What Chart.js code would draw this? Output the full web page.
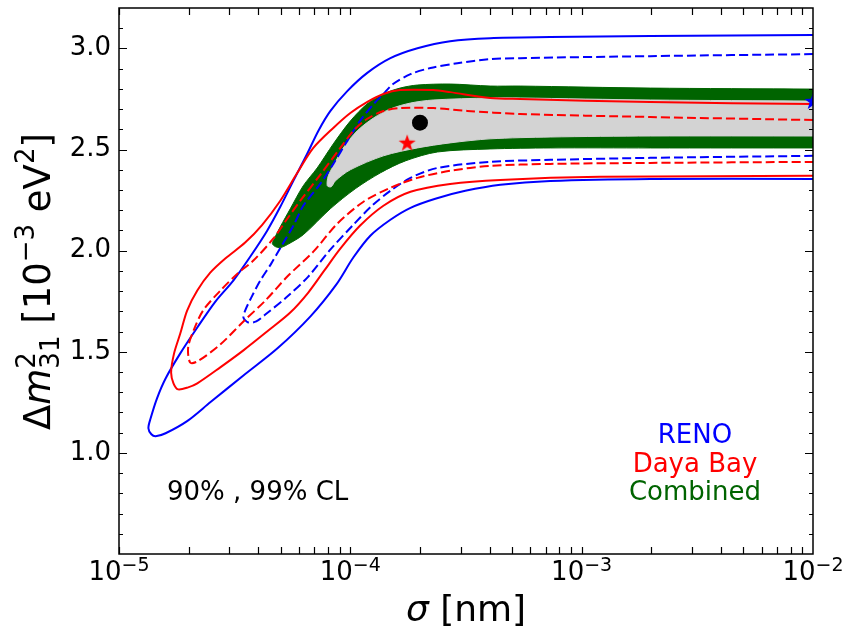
<!DOCTYPE html>
<html>
<head>
<meta charset="utf-8">
<script src="https://cdn.jsdelivr.net/npm/chart.js@4.4.1/dist/chart.umd.min.js"></script>
<style>
  html, body { margin: 0; padding: 0; background: #fff; }
  canvas { display: block; }
</style>
</head>
<body>
<canvas id="myChart" width="854" height="627"></canvas>
<script>
// sigma in nm, dm2 in 1e-3 eV^2, contours

// RENO 99% CL (solid)
const renoOuterSigma = [1e-2, 1.98e-3, 7.31e-4, 4.02e-4, 2.70e-4, 1.95e-4, 1.49e-4, 1.18e-4, 9.70e-5, 8.19e-5,
  7.27e-5, 6.51e-5, 5.67e-5, 4.98e-5, 4.37e-5, 3.69e-5, 3.12e-5, 2.61e-5, 2.18e-5, 1.84e-5,
  1.59e-5, 1.46e-5, 1.37e-5, 1.34e-5, 1.38e-5, 1.44e-5, 1.59e-5, 1.97e-5, 2.48e-5, 3.45e-5,
  4.83e-5, 6.71e-5, 8.69e-5, 1.03e-4, 1.22e-4, 1.49e-4, 1.82e-4, 2.33e-4, 3.14e-4, 4.45e-4,
  7.31e-4, 1.98e-3, 1e-2];
const renoOuterDm2 = [3.066, 3.061, 3.056, 3.051, 3.036, 3.001, 2.952, 2.878, 2.789, 2.690,
  2.592, 2.479, 2.345, 2.217, 2.099, 1.970, 1.852, 1.748, 1.620, 1.492,
  1.368, 1.270, 1.171, 1.122, 1.092, 1.082, 1.097, 1.157, 1.250, 1.383,
  1.516, 1.674, 1.832, 1.966, 2.074, 2.153, 2.212, 2.257, 2.296, 2.326,
  2.345, 2.355, 2.355];

// RENO 90% CL (dashed)
const renoInnerSigma = [1e-2, 1.98e-3, 5.42e-4, 4.02e-4, 2.90e-4, 2.22e-4, 1.82e-4, 1.53e-4, 1.39e-4, 1.26e-4,
  1.10e-4, 9.70e-5, 8.44e-5, 7.41e-5, 6.26e-5, 5.67e-5, 5.08e-5, 4.55e-5, 4.08e-5, 3.73e-5,
  3.51e-5, 3.45e-5, 3.62e-5, 3.92e-5, 4.29e-5, 5.34e-5, 6.58e-5, 8.19e-5, 1.03e-4, 1.24e-4,
  1.49e-4, 1.82e-4, 2.38e-4, 4.02e-4, 7.31e-4, 1.98e-3, 1e-2];
const renoInnerDm2 = [2.972, 2.962, 2.952, 2.947, 2.927, 2.903, 2.873, 2.824, 2.775, 2.725,
  2.641, 2.543, 2.429, 2.330, 2.222, 2.123, 2.030, 1.936, 1.852, 1.768,
  1.704, 1.670, 1.645, 1.650, 1.684, 1.773, 1.872, 2.005, 2.128, 2.222,
  2.296, 2.360, 2.409, 2.439, 2.449, 2.459, 2.469];

// Daya Bay 99% CL (solid)
const dayaOuterSigma = [1e-2, 1.98e-3, 5.42e-4, 4.02e-4, 2.70e-4, 2.28e-4, 1.64e-4, 1.39e-4, 1.18e-4, 1.00e-4,
  8.44e-5, 6.92e-5, 5.90e-5, 4.98e-5, 4.16e-5, 3.51e-5, 2.88e-5, 2.48e-5, 2.18e-5, 1.97e-5,
  1.84e-5, 1.73e-5, 1.68e-5, 1.72e-5, 1.80e-5, 1.99e-5, 2.18e-5, 2.74e-5, 3.45e-5, 4.42e-5,
  5.50e-5, 6.58e-5, 7.71e-5, 9.05e-5, 1.10e-4, 1.39e-4, 1.82e-4, 2.70e-4, 4.45e-4, 1.20e-3,
  1e-2];
const dayaOuterDm2 = [2.725, 2.735, 2.750, 2.755, 2.784, 2.794, 2.794, 2.775, 2.735, 2.681,
  2.607, 2.508, 2.385, 2.247, 2.128, 2.040, 1.961, 1.891, 1.803, 1.704,
  1.590, 1.492, 1.398, 1.344, 1.314, 1.324, 1.344, 1.423, 1.507, 1.605,
  1.694, 1.793, 1.901, 2.010, 2.123, 2.222, 2.291, 2.330, 2.350, 2.365,
  2.370];

// Daya Bay 90% CL (dashed)
const dayaInnerSigma = [1e-2, 1.98e-3, 5.42e-4, 3.20e-4, 2.28e-4, 1.64e-4, 1.39e-4, 1.18e-4, 1.03e-4, 9.05e-5,
  7.41e-5, 6.08e-5, 5.34e-5, 4.64e-5, 3.81e-5, 3.25e-5, 2.74e-5, 2.31e-5, 2.10e-5, 1.99e-5,
  2.03e-5, 2.18e-5, 2.74e-5, 3.45e-5, 4.29e-5, 5.34e-5, 6.92e-5, 8.78e-5, 1.14e-4, 1.49e-4,
  1.95e-4, 2.70e-4, 4.02e-4, 7.31e-4, 1.98e-3, 1e-2];
const dayaInnerDm2 = [2.646, 2.661, 2.676, 2.691, 2.705, 2.705, 2.691, 2.651, 2.592, 2.508,
  2.375, 2.247, 2.158, 2.059, 1.951, 1.886, 1.802, 1.704, 1.605, 1.521,
  1.447, 1.452, 1.536, 1.650, 1.753, 1.872, 1.995, 2.133, 2.242, 2.311,
  2.360, 2.395, 2.419, 2.429, 2.434, 2.439];

// Combined 99% CL (green)
const combOuterSigma = [1e-2, 1.98e-3, 5.42e-4, 4.02e-4, 2.70e-4, 1.95e-4, 1.64e-4, 1.39e-4, 1.18e-4, 1.00e-4,
  8.44e-5, 7.19e-5, 6.26e-5, 5.50e-5, 4.98e-5, 4.69e-5, 4.60e-5, 4.74e-5, 4.98e-5, 5.34e-5,
  6.26e-5, 8.19e-5, 1.05e-4, 1.35e-4, 1.73e-4, 2.38e-4, 4.02e-4, 7.31e-4, 1.98e-3, 1e-2];
const combOuterDm2 = [2.799, 2.804, 2.814, 2.814, 2.824, 2.819, 2.804, 2.775, 2.725, 2.641,
  2.528, 2.409, 2.321, 2.207, 2.118, 2.059, 2.035, 2.020, 2.015, 2.030,
  2.079, 2.207, 2.306, 2.385, 2.444, 2.488, 2.503, 2.508, 2.508, 2.508];

// Combined 90% CL (grey)
const combInnerSigma = [1e-2, 1.98e-3, 5.42e-4, 4.02e-4, 2.28e-4, 1.82e-4, 1.49e-4, 1.26e-4, 1.07e-4, 9.32e-5,
  8.44e-5, 8.03e-5, 7.95e-5, 8.27e-5, 8.61e-5, 1.00e-4, 1.39e-4, 1.95e-4, 2.70e-4, 4.02e-4,
  7.31e-4, 1.98e-3, 1e-2];
const combInnerDm2 = [2.740, 2.745, 2.755, 2.755, 2.745, 2.730, 2.701, 2.656, 2.592, 2.508,
  2.419, 2.370, 2.321, 2.316, 2.345, 2.400, 2.469, 2.508, 2.533, 2.553,
  2.562, 2.567, 2.567];

// best fit points: Combined, Daya Bay, RENO
const bestFitSigma = [2.0e-4, 1.76e-4, 1.0e-2];
const bestFitDm2 = [2.633, 2.534, 2.740];

const xTickPowers = [-5, -4, -3, -2];
const yTickValues = [1.0, 1.5, 2.0, 2.5, 3.0];
const legendNames = ['RENO', 'Daya Bay', 'Combined'];

const BLUE = '#0000ff', RED = '#ff0000', GREEN = '#006400', GREY = '#d3d3d3';
const FONT = '"DejaVu Sans"';

const pts = (xs, ys) => xs.map((v, i) => ({ x: v, y: ys[i] }));

function starImage(color, r) {
  const c = document.createElement('canvas');
  c.width = c.height = Math.ceil(r * 2 + 2);
  const g = c.getContext('2d');
  g.translate(c.width / 2, c.height / 2 + r * 0.08);
  g.beginPath();
  for (let i = 0; i < 10; i++) {
    const rad = i % 2 ? r * 0.4 : r;
    const a = -Math.PI / 2 + i * Math.PI / 5;
    g.lineTo(rad * Math.cos(a), rad * Math.sin(a));
  }
  g.closePath();
  g.fillStyle = color;
  g.fill();
  return c;
}

function contour(data, color, dashed) {
  return {
    data: data,
    showLine: true,
    borderColor: color,
    borderWidth: 2,
    borderDash: dashed ? [9, 4] : [],
    pointRadius: 0,
    tension: 0.3,
    fill: false,
    order: 1
  };
}

function area(data, color, order) {
  return {
    data: data,
    showLine: true,
    borderColor: color,
    backgroundColor: color,
    borderWidth: 1,
    pointRadius: 0,
    tension: 0.3,
    fill: 'shape',
    order: order
  };
}

function drawRuns(ctx, runs, x0, y0) {
  let cx = x0;
  runs.forEach(r => {
    ctx.font = r.f;
    ctx.fillText(r.t, cx, y0 + (r.dy || 0));
    if (!r.noAdv) cx += ctx.measureText(r.t).width;
  });
  return cx;
}

function runsWidth(ctx, runs) {
  let w = 0;
  runs.forEach(r => {
    ctx.font = r.f;
    if (!r.noAdv) w += ctx.measureText(r.t).width;
  });
  return w;
}

const decor = {
  id: 'decor',
  afterDraw(chart) {
    const { ctx, chartArea: a, scales: { x, y } } = chart;
    ctx.save();
    ctx.strokeStyle = '#000';
    ctx.lineWidth = 1.2;
    ctx.beginPath();
    // ticks point inward on all four sides
    for (let p = -5; p < -2; p++) {
      for (let k = 1; k < 10; k++) {
        const px = Math.round(x.getPixelForValue(k * Math.pow(10, p))) + 0.5;
        ctx.moveTo(px, a.bottom); ctx.lineTo(px, a.bottom - 7);
        ctx.moveTo(px, a.top); ctx.lineTo(px, a.top + 7);
      }
    }
    for (let i = 6; i <= 31; i++) {
      const len = i % 5 === 0 ? 8 : 4;
      const py = Math.round(y.getPixelForValue(i / 10)) + 0.5;
      ctx.moveTo(a.left, py); ctx.lineTo(a.left + len, py);
      ctx.moveTo(a.right, py); ctx.lineTo(a.right - len, py);
    }
    ctx.stroke();
    ctx.lineWidth = 1.5;
    ctx.strokeRect(a.left, a.top, a.right - a.left, a.bottom - a.top);

    ctx.fillStyle = '#000';
    ctx.textBaseline = 'alphabetic';
    ctx.textAlign = 'left';

    // x tick labels 10^n
    xTickPowers.forEach(p => {
      const runs = [
        { t: '10', f: '26px ' + FONT },
        { t: '\u2212' + (-p), f: '19px ' + FONT, dy: -9 }
      ];
      const px = x.getPixelForValue(Math.pow(10, p));
      drawRuns(ctx, runs, px - runsWidth(ctx, runs) / 2, a.bottom + 26);
    });

    // x axis title
    const xt = [
      { t: '\u03c3', f: 'italic 36px ' + FONT },
      { t: ' [nm]', f: '36px ' + FONT }
    ];
    drawRuns(ctx, xt, (a.left + a.right) / 2 - runsWidth(ctx, xt) / 2, 621);

    // y axis title
    const yt = [
      { t: '\u0394', f: '37px ' + FONT },
      { t: 'm', f: 'italic 37px ' + FONT },
      { t: '2', f: '26px ' + FONT, dy: -15, noAdv: true },
      { t: '31', f: '26px ' + FONT, dy: 9 },
      { t: ' [10', f: '37px ' + FONT },
      { t: '\u22123', f: '26px ' + FONT, dy: -16 },
      { t: ' eV', f: '37px ' + FONT },
      { t: '2', f: '26px ' + FONT, dy: -16 },
      { t: ']', f: '37px ' + FONT }
    ];
    ctx.save();
    ctx.translate(50, 430);
    ctx.rotate(-Math.PI / 2);
    drawRuns(ctx, yt, 0, 0);
    ctx.restore();

    // annotations
    ctx.font = '26px ' + FONT;
    ctx.fillText('90% , 99% CL', 167, 500);
    ctx.textAlign = 'center';
    const lc = [BLUE, RED, GREEN];
    legendNames.forEach((n, i) => {
      ctx.fillStyle = lc[i];
      ctx.fillText(n, 695, 443 + i * 28.5);
    });
    ctx.restore();
  }
};

Chart.defaults.font.family = 'DejaVu Sans';
Chart.defaults.color = '#000';

new Chart(document.getElementById('myChart'), {
  type: 'scatter',
  data: {
    datasets: [
      {
        data: pts(bestFitSigma.slice(0, 1), bestFitDm2.slice(0, 1)),
        pointStyle: 'circle', pointRadius: 8, backgroundColor: '#000', borderWidth: 0, order: 0
      },
      {
        data: pts(bestFitSigma.slice(1, 2), bestFitDm2.slice(1, 2)),
        pointStyle: starImage(RED, 9), order: 0
      },
      {
        data: pts(bestFitSigma.slice(2, 3), bestFitDm2.slice(2, 3)),
        pointStyle: starImage(BLUE, 9), order: 0
      },
      contour(pts(dayaInnerSigma, dayaInnerDm2), RED, true),
      contour(pts(dayaOuterSigma, dayaOuterDm2), RED, false),
      contour(pts(renoInnerSigma, renoInnerDm2), BLUE, true),
      contour(pts(renoOuterSigma, renoOuterDm2), BLUE, false),
      area(pts(combInnerSigma, combInnerDm2), GREY, 2),
      area(pts(combOuterSigma, combOuterDm2), GREEN, 3)
    ]
  },
  options: {
    responsive: false,
    animation: false,
    devicePixelRatio: 1,
    events: [],
    layout: { padding: { top: 7, right: 41, left: 0, bottom: 0 } },
    plugins: { legend: { display: false }, tooltip: { enabled: false } },
    scales: {
      x: {
        type: 'logarithmic',
        min: 1e-5,
        max: 1e-2,
        grid: { display: false, drawTicks: false },
        border: { display: false },
        ticks: { display: false },
        afterFit(s) { s.height = 73; s.paddingLeft = 0; s.paddingRight = 0; }
      },
      y: {
        type: 'linear',
        min: 0.5,
        max: 3.2,
        grid: { display: false, drawTicks: false },
        border: { display: false },
        afterBuildTicks(s) { s.ticks = yTickValues.map(v => ({ value: v })); },
        ticks: {
          padding: 8,
          color: '#000',
          font: { size: 26, family: 'DejaVu Sans' },
          callback: v => v.toFixed(1)
        },
        afterFit(s) { s.width = 119; s.paddingTop = 0; s.paddingBottom = 0; }
      }
    }
  },
  plugins: [decor]
});
</script>
</body>
</html>
